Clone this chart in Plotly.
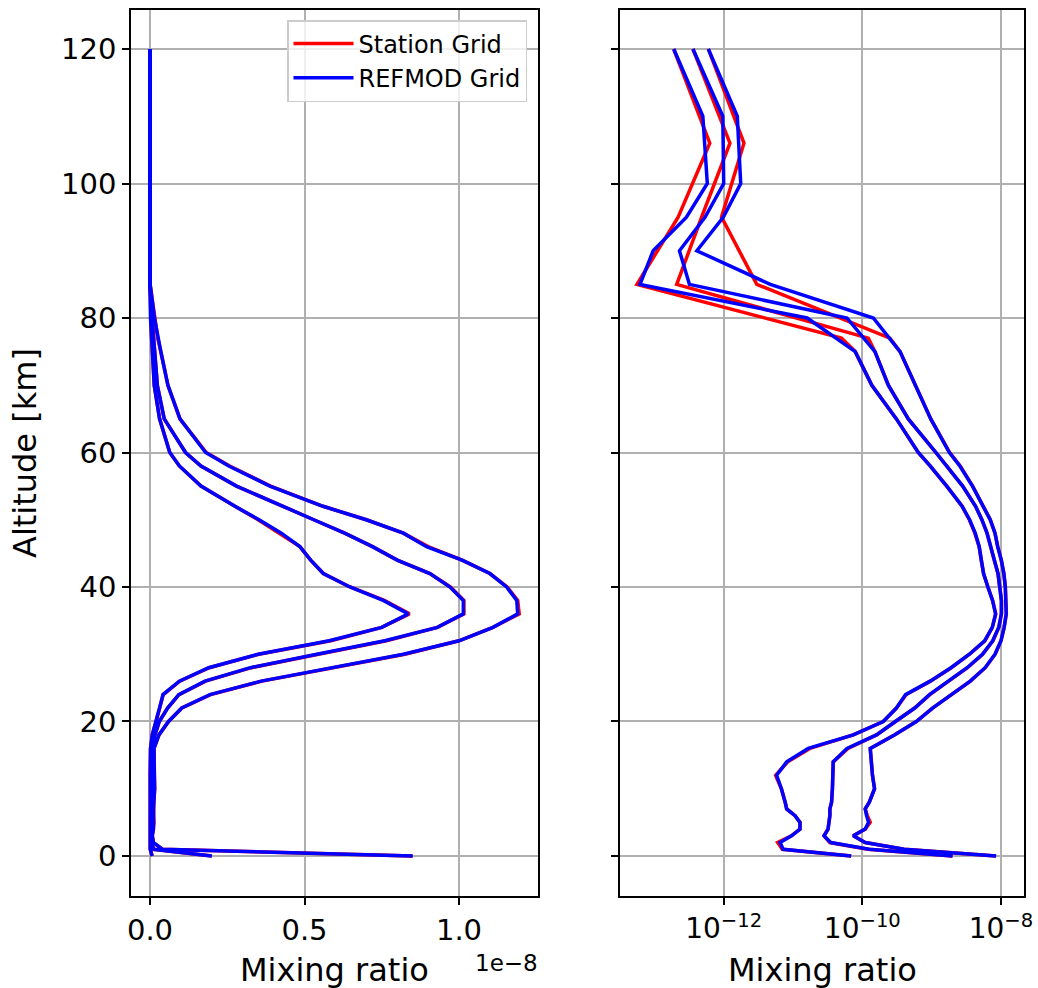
import plotly.graph_objects as go

# ---------------- data ----------------
alt_refmod = [0, 1, 2, 3, 4, 5, 6, 7, 8, 10, 12, 14, 16, 18, 20, 22, 24, 26, 28, 30,
              32, 34, 36, 38, 40, 42, 44, 46, 48, 50, 52, 55, 58, 60, 65, 70, 75, 80,
              85, 90, 95, 100, 110, 120]

refmod_a = [8.5e-9, 4.0e-10, 1.1e-10, 7.4e-11, 1.1e-10, 1.23e-10, 1.15e-10, 1.1e-10,
            1.26e-10, 1.5e-10, 1.4e-10, 1.35e-10, 1.3e-10, 2.9e-10, 6.0e-10, 1.03e-9,
            1.94e-9, 3.6e-9, 5.9e-9, 8.2e-9, 1.0e-8, 1.11e-8, 1.19e-8, 1.187e-8,
            1.154e-8, 1.10e-8, 1.01e-8, 8.95e-9, 8.2e-9, 7.0e-9, 5.6e-9, 3.88e-9,
            2.55e-9, 1.8e-9, 9.7e-10, 5.8e-10, 3.5e-10, 1.44e-10, 4.7e-12, 4.1e-13,
            9.9e-13, 1.76e-12, 1.57e-12, 6.0e-13]

refmod_b = [2.0e-9, 1.26e-10, 3.5e-11, 2.8e-11, 3.2e-11, 3.3e-11, 3.4e-11, 3.4e-11,
            3.6e-11, 3.7e-11, 3.7e-11, 3.8e-11, 6.0e-11, 1.6e-10, 3.0e-10, 5.7e-10,
            9.3e-10, 1.78e-9, 3.25e-9, 5.4e-9, 7.6e-9, 9.3e-9, 1.014e-8, 1.014e-8,
            9.71e-9, 9.06e-9, 8.0e-9, 7.2e-9, 6.3e-9, 5.3e-9, 4.3e-9, 2.8e-9,
            1.65e-9, 1.15e-9, 4.6e-10, 2.37e-10, 1.52e-10, 6.0e-11, 3.2e-13, 2.3e-13,
            5.4e-13, 1.0e-12, 9.7e-13, 3.6e-13]

refmod_c = [6.9e-11, 7.2e-12, 6.5e-12, 9.5e-12, 1.26e-11, 1.26e-11, 1.07e-11, 8.1e-12,
            7.7e-12, 6.8e-12, 5.8e-12, 8.1e-12, 1.66e-11, 7.4e-11, 2.0e-10, 3.1e-10,
            4.2e-10, 9.5e-10, 1.9e-9, 3.5e-9, 5.8e-9, 7.5e-9, 8.36e-9, 7.55e-9,
            6.47e-9, 5.61e-9, 5.2e-9, 4.85e-9, 4.25e-9, 3.53e-9, 2.75e-9, 1.65e-9,
            9.5e-10, 6.4e-10, 3.1e-10, 1.37e-10, 7.9e-11, 1.6e-11, 6.2e-14, 9.6e-14,
            2.9e-13, 5.8e-13, 5.0e-13, 1.9e-13]

alt_station = [0, 1, 2, 3, 4, 5, 6, 7, 8, 10, 12, 14, 16, 18, 20, 22, 24, 26, 28, 30,
               32, 34, 36, 38, 40, 42, 44, 46, 48, 50, 52, 55, 58, 60, 65, 70, 75, 77,
               85, 95, 106, 120]

station_a = [8.5e-9, 4.0e-10, 1.1e-10, 7.4e-11, 1.1e-10, 1.3e-10, 1.18e-10, 1.1e-10,
             1.26e-10, 1.5e-10, 1.4e-10, 1.35e-10, 1.3e-10, 2.9e-10, 6.0e-10, 1.03e-9,
             1.96e-9, 3.62e-9, 5.95e-9, 8.25e-9, 1.0e-8, 1.11e-8, 1.195e-8, 1.19e-8,
             1.156e-8, 1.10e-8, 1.01e-8, 9.0e-9, 8.2e-9, 7.0e-9, 5.6e-9, 3.9e-9,
             2.58e-9, 1.82e-9, 9.7e-10, 5.8e-10, 3.5e-10, 2.5e-10, 3.0e-12, 9.3e-13,
             1.96e-12, 6.0e-13]

station_b = [2.0e-9, 1.2e-10, 3.4e-11, 2.8e-11, 3.2e-11, 3.3e-11, 3.4e-11, 3.4e-11,
             3.6e-11, 3.7e-11, 3.7e-11, 3.8e-11, 6.2e-11, 1.6e-10, 3.0e-10, 5.7e-10,
             9.4e-10, 1.8e-9, 3.28e-9, 5.45e-9, 7.65e-9, 9.3e-9, 1.016e-8, 1.016e-8,
             9.72e-9, 9.06e-9, 8.0e-9, 7.2e-9, 6.3e-9, 5.3e-9, 4.3e-9, 2.8e-9,
             1.65e-9, 1.15e-9, 4.6e-10, 2.37e-10, 1.52e-10, 1.22e-10, 2.1e-13, 4.8e-13,
             1.23e-12, 3.6e-13]

station_c = [6.9e-11, 7.0e-12, 6.0e-12, 9.5e-12, 1.26e-11, 1.26e-11, 1.07e-11, 8.1e-12,
             7.7e-12, 6.8e-12, 5.6e-12, 8.4e-12, 1.75e-11, 7.4e-11, 2.0e-10, 3.1e-10,
             4.3e-10, 9.6e-10, 1.92e-9, 3.52e-9, 5.85e-9, 7.5e-9, 8.4e-9, 7.58e-9,
             6.47e-9, 5.61e-9, 5.2e-9, 4.85e-9, 4.2e-9, 3.5e-9, 2.75e-9, 1.65e-9,
             9.5e-10, 6.4e-10, 3.1e-10, 1.37e-10, 7.9e-11, 5.0e-11, 5.6e-14, 2.2e-13,
             6.3e-13, 1.9e-13]

station_profiles = [station_a, station_b, station_c]
refmod_profiles = [refmod_a, refmod_b, refmod_c]

lin_tickvals = [0, 0.5e-8, 1.0e-8]
lin_ticktext = ["0.0", "0.5", "1.0"]
log_tickvals = [1e-12, 1e-10, 1e-8]
log_ticktext = ["10<sup>\u221212</sup>", "10<sup>\u221210</sup>", "10<sup>\u22128</sup>"]
alt_ticks = [0, 20, 40, 60, 80, 100, 120]

RED = "#ff0000"
BLUE = "#0000ff"
FONT = "DejaVu Sans"

fig = go.Figure()

for xa in ["x", "x2"]:
    for i, prof in enumerate(station_profiles):
        fig.add_trace(go.Scatter(x=prof, y=alt_station, mode="lines",
                                 line=dict(color=RED, width=3.5),
                                 name="Station Grid", legendgroup="st",
                                 showlegend=(xa == "x" and i == 0),
                                 xaxis=xa, yaxis="y" if xa == "x" else "y2"))
for xa in ["x", "x2"]:
    for i, prof in enumerate(refmod_profiles):
        fig.add_trace(go.Scatter(x=prof, y=alt_refmod, mode="lines",
                                 line=dict(color=BLUE, width=3.5),
                                 name="REFMOD Grid", legendgroup="rm",
                                 showlegend=(xa == "x" and i == 0),
                                 xaxis=xa, yaxis="y" if xa == "x" else "y2"))

axis_common = dict(showline=True, linecolor="black", linewidth=1.7, mirror=True,
                   ticks="outside", ticklen=7, tickwidth=1.7, tickcolor="black",
                   showgrid=True, gridcolor="#b0b0b0", gridwidth=1.7, zeroline=False,
                   automargin=False)

W, H = 1038, 988
ml, mr, mt, mb = 131, 14, 10, 92
pw = W - ml - mr
ph = H - mt - mb


def px_x(px):
    return (px - ml) / pw


def px_y(py):
    return (H - mb - py) / ph


fig.update_layout(
    width=W, height=H,
    margin=dict(l=ml, r=mr, t=mt, b=mb, autoexpand=False),
    paper_bgcolor="white", plot_bgcolor="white",
    font=dict(family=FONT, color="black"),
    xaxis=dict(domain=[0, px_x(538)], range=[-0.0615e-8, 1.2557e-8],
               tickvals=lin_tickvals, ticktext=lin_ticktext, anchor="y",
               tickfont=dict(family=FONT, size=29, color="black"), **axis_common),
    xaxis2=dict(domain=[px_x(620), 1], type="log", range=[-13.496, -7.668],
                tickvals=log_tickvals, ticktext=log_ticktext, anchor="y2",
                tickfont=dict(family=FONT, size=28, color="black"), **axis_common),
    yaxis=dict(range=[-5.95, 125.8], tickvals=alt_ticks, anchor="x",
               tickfont=dict(family=FONT, size=29, color="black"), **axis_common),
    yaxis2=dict(range=[-5.95, 125.8], tickvals=alt_ticks, showticklabels=False,
                matches="y", anchor="x2", **axis_common),
    legend=dict(x=px_x(527), y=px_y(20), xanchor="right", yanchor="top",
                bgcolor="rgba(255,255,255,0.8)", bordercolor="#cccccc", borderwidth=1.5,
                font=dict(family=FONT, size=24, color="black"),
                itemwidth=60, tracegroupgap=0),
    showlegend=True,
    annotations=[
        dict(text="1e\u22128", xref="paper", yref="paper",
             x=px_x(540), y=px_y(963), xanchor="right", yanchor="middle",
             showarrow=False, font=dict(family=FONT, size=23, color="black")),
        dict(text="Mixing ratio", xref="paper", yref="paper",
             x=px_x(334.5), y=px_y(970), xanchor="center", yanchor="middle",
             showarrow=False, font=dict(family=FONT, size=32, color="black")),
        dict(text="Mixing ratio", xref="paper", yref="paper",
             x=px_x(822), y=px_y(970), xanchor="center", yanchor="middle",
             showarrow=False, font=dict(family=FONT, size=32, color="black")),
        dict(text="Altitude [km]", xref="paper", yref="paper",
             x=px_x(25), y=px_y(453), xanchor="center", yanchor="middle",
             textangle=-90, showarrow=False,
             font=dict(family=FONT, size=32, color="black")),
    ],
)

fig.write_html("out.html",
               config={"displayModeBar": False},
               post_script="document.body.style.margin='0';"
                           "document.body.style.overflow='hidden';")
